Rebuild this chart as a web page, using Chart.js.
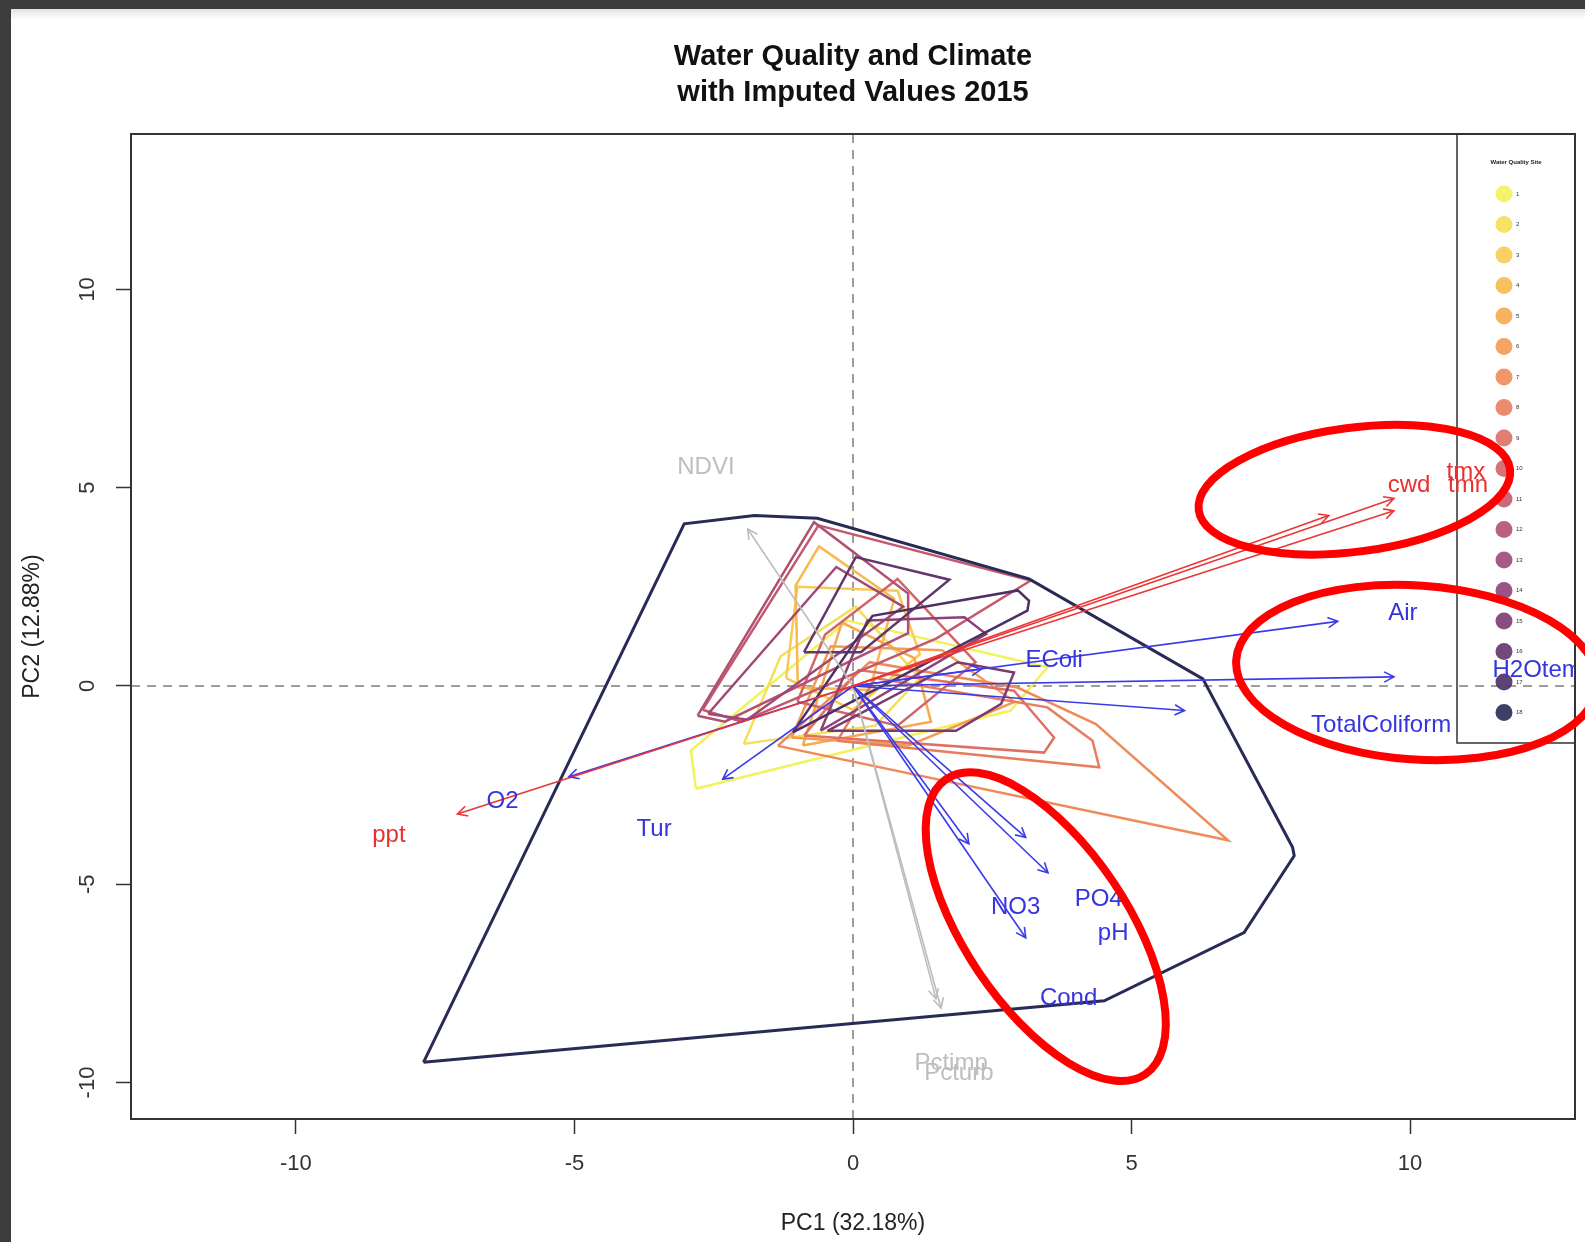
<!DOCTYPE html>
<html>
<head>
<meta charset="utf-8">
<script src="https://cdn.jsdelivr.net/npm/chart.js@4.4.1/dist/chart.umd.min.js"></script>
<style>
  html, body { margin: 0; padding: 0; background: #fff; }
  #wrap { position: relative; width: 1585px; height: 1242px; overflow: hidden; }
  .band { position: absolute; background: #3d3d3d; }
</style>
</head>
<body>
<div id="wrap">
  <canvas id="biplot" width="1585" height="1242"></canvas>
  <div class="band" style="left:0;top:0;width:1585px;height:9px"></div>
  <div class="band" style="left:0;top:0;width:11px;height:1242px"></div>
  <div style="position:absolute;left:11px;top:9px;width:1574px;height:11px;background:linear-gradient(#e2e2e2,#fff)"></div>
</div>
<script>
// sites (legend) and their colours
const siteLabels = ['1','2','3','4','5','6','7','8','9','10','11','12','13','14','15','16','17','18'];
const siteColors = ['#F2F25C','#F5DF57','#F7CB52','#F8B94F','#F7A94F','#F49A53','#EF8B58','#E87D5E','#DE7064',
                    '#D2646A','#C3596E','#B25072','#A04874','#8D4175','#793B73','#63356D','#4C3065','#272B55'];

// convex hull of each site's scores, [PC1, PC2]
const siteHulls = [
  [[-2.82,-2.59],[-2.91,-1.63],[-0.10,1.65],[3.49,0.47],[2.83,-0.62]],
  [[-1.96,-1.46],[-1.30,0.75],[0.05,2.00],[1.20,0.20],[0.40,-1.00]],
  [[-1.20,0.20],[-1.00,2.50],[0.80,2.40],[1.20,0.80],[0.00,-0.60]],
  [[-0.99,-0.04],[-1.03,2.53],[-0.61,3.52],[0.74,2.20],[0.30,-0.10]],
  [[-0.90,-1.50],[-0.20,1.60],[1.10,0.70],[1.40,-0.90]],
  [[-1.10,-1.30],[-0.40,1.00],[1.60,0.90],[2.90,-0.40],[1.00,-1.50]],
  [[-1.35,-1.51],[0.30,0.60],[2.95,-0.04],[4.36,-0.96],[6.73,-3.89]],
  [[-0.28,-1.38],[0.40,0.20],[3.49,-0.54],[4.30,-1.38],[4.42,-2.05]],
  [[-0.88,-1.25],[0.10,0.40],[2.89,-0.12],[3.61,-1.30],[3.43,-1.68]],
  [[-1.00,-0.40],[-0.50,1.30],[0.80,2.70],[2.20,0.60],[0.80,-1.00]],
  [[-2.70,-0.60],[-0.62,4.05],[3.19,2.66],[1.50,1.20],[-2.00,-0.90]],
  [[-2.79,-0.75],[-0.70,4.13],[0.99,2.33],[0.99,1.33],[-2.30,-0.90]],
  [[-2.60,-0.70],[-0.30,3.00],[0.90,2.00],[-1.90,-0.85]],
  [[-0.58,-1.13],[0.26,1.65],[2.00,1.73],[2.39,1.31]],
  [[-0.46,-1.13],[1.88,0.60],[2.89,0.34],[2.66,-0.45],[1.85,-1.13]],
  [[-0.88,0.85],[0.05,3.25],[1.73,2.68],[0.14,0.85]],
  [[-1.08,-1.17],[0.35,1.77],[2.96,2.41],[3.16,2.15],[3.13,1.90]],
  [[-7.71,-9.49],[-3.03,4.09],[-1.77,4.30],[-0.64,4.23],[3.16,2.70],[6.28,0.18],[7.89,-4.07],[7.92,-4.28],[7.02,-6.22],[4.51,-7.94]]
];

// variable loadings (arrow tips) and where their names sit
const varNames  = ['ppt','cwd','tmx','tmn','O2','Tur','EColi','Air','H2Otemp','TotalColiform','NO3','PO4','pH','Cond','NDVI','Pctimp','Pcturb'];
const varGroups = ['climate','climate','climate','climate','water','water','water','water','water','water','water','water','water','water','land','land','land'];
const loadX  = [-7.10, 8.54, 9.71, 9.71, -5.10, -2.34, 2.30, 8.70, 9.71, 5.95, 2.08, 3.10, 3.50, 3.10, -1.89, 1.49, 1.58];
const loadY  = [-3.23, 4.30, 4.73, 4.42, -2.29, -2.35, 0.42, 1.63, 0.23, -0.62, -3.98, -3.82, -4.71, -6.35, 3.96, -7.89, -8.12];
const labelX = [-8.33, 9.98, 11.00, 11.04, -6.29, -3.57, 3.61, 9.87, 12.40, 9.48, 2.92, 4.41, 4.67, 3.87, -2.64, 1.76, 1.90];
const labelY = [-3.78, 5.06, 5.39, 5.06, -2.90, -3.61, 0.64, 1.82, 0.39, -1.00, -5.59, -5.39, -6.25, -7.89, 5.52, -9.51, -9.76];

// hand-drawn highlight ellipses: centre in PC units
const markCx = [9.00, 10.12, 3.46];
const markCy = [4.95, 0.34, -6.07];

const FONT = '"Liberation Sans", Arial, sans-serif';
const groupColor = { climate: '#EC3535', water: '#3A3AEA', land: '#BDBDBD' };
const groupText  = { climate: '#E8302F', water: '#3434E0', land: '#BEBEBE' };
const groupOrder = { climate: 2, water: 3, land: 4 };
const markShape = [ { rx: 157, ry: 62, rot: -7.5 }, { rx: 181, ry: 87, rot: 4 }, { rx: 178, ry: 81, rot: 56 } ];

const datasets = [];
siteHulls.forEach((hull, i) => {
  const pts = hull.concat([hull[0]]).map(p => ({ x: p[0], y: p[1] }));
  datasets.push({
    label: 'site ' + siteLabels[i], data: pts, showLine: true, pointRadius: 0,
    borderColor: siteColors[i], borderWidth: i === 17 ? 3 : 2.5, tension: 0, order: 100 - i
  });
});
varNames.forEach((name, i) => {
  datasets.push({
    label: name, data: [{ x: 0, y: 0 }, { x: loadX[i], y: loadY[i] }], showLine: true, pointRadius: 0,
    borderColor: groupColor[varGroups[i]], borderWidth: 1.6, order: groupOrder[varGroups[i]], isArrow: true
  });
});

const biplotDecor = {
  id: 'biplotDecor',
  beforeDatasetsDraw(chart) {
    const { ctx, chartArea: a, scales: { x, y } } = chart;
    const x0 = x.getPixelForValue(0), y0 = y.getPixelForValue(0);
    ctx.save();
    ctx.strokeStyle = '#9d9d9d';
    ctx.lineWidth = 2;
    ctx.setLineDash([9, 7]);
    ctx.beginPath();
    ctx.moveTo(x0, a.top); ctx.lineTo(x0, a.bottom);
    ctx.moveTo(a.left, y0); ctx.lineTo(a.right, y0);
    ctx.stroke();
    ctx.restore();
  },
  afterDatasetsDraw(chart) {
    const { ctx, chartArea: a, scales: { x, y } } = chart;
    ctx.save();
    // arrow heads
    chart.data.datasets.forEach((ds, i) => {
      if (!ds.isArrow) return;
      const [p0, p1] = chart.getDatasetMeta(i).data;
      const ang = Math.atan2(p1.y - p0.y, p1.x - p0.x);
      const len = 11, spread = Math.PI / 6.5;
      ctx.strokeStyle = ds.borderColor;
      ctx.lineWidth = 1.6;
      ctx.beginPath();
      ctx.moveTo(p1.x - len * Math.cos(ang - spread), p1.y - len * Math.sin(ang - spread));
      ctx.lineTo(p1.x, p1.y);
      ctx.lineTo(p1.x - len * Math.cos(ang + spread), p1.y - len * Math.sin(ang + spread));
      ctx.stroke();
    });

    // legend box
    const lx = a.right - 118, ly = a.top, lh = 609;
    ctx.strokeStyle = '#333';
    ctx.lineWidth = 1.5;
    ctx.strokeRect(lx, ly, 118, lh);
    ctx.fillStyle = '#222';
    ctx.font = 'bold 6px ' + FONT;
    ctx.textAlign = 'center';
    ctx.textBaseline = 'middle';
    ctx.fillText('Water Quality Site', lx + 59, ly + 28);
    ctx.font = '6px ' + FONT;
    siteLabels.forEach((lab, i) => {
      const cy = ly + 60 + i * 30.5;
      ctx.globalAlpha = 0.9;
      ctx.fillStyle = siteColors[i];
      ctx.beginPath();
      ctx.arc(lx + 47, cy, 8.5, 0, Math.PI * 2);
      ctx.fill();
      ctx.globalAlpha = 1;
      ctx.fillStyle = '#333';
      ctx.textAlign = 'left';
      ctx.fillText(lab, lx + 59, cy);
    });

    // variable names, clipped to the plot region
    ctx.beginPath();
    ctx.rect(a.left, a.top, a.right - a.left, a.bottom - a.top);
    ctx.clip();
    ctx.font = '24px ' + FONT;
    ctx.textAlign = 'center';
    ctx.textBaseline = 'middle';
    varNames.forEach((name, i) => {
      ctx.fillStyle = groupText[varGroups[i]];
      ctx.fillText(name, x.getPixelForValue(labelX[i]), y.getPixelForValue(labelY[i]));
    });
    ctx.restore();
  },
  afterDraw(chart) {
    const { ctx, chartArea: a, scales: { x, y } } = chart;
    ctx.save();
    ctx.strokeStyle = '#333';
    ctx.lineWidth = 2;
    ctx.strokeRect(a.left, a.top, a.right - a.left, a.bottom - a.top);
    // red highlight ellipses
    ctx.strokeStyle = '#FF0000';
    ctx.lineWidth = 8;
    markCx.forEach((cx, i) => {
      const s = markShape[i];
      ctx.beginPath();
      ctx.ellipse(x.getPixelForValue(cx), y.getPixelForValue(markCy[i]), s.rx, s.ry, s.rot * Math.PI / 180, 0, Math.PI * 2);
      ctx.stroke();
    });
    ctx.restore();
  }
};

new Chart(document.getElementById('biplot'), {
  type: 'scatter',
  data: { datasets },
  options: {
    responsive: false,
    animation: false,
    events: [],
    layout: { padding: { left: 0, right: 10, top: 0, bottom: 0 } },
    plugins: {
      legend: { display: false },
      tooltip: { enabled: false },
      title: {
        display: true,
        fullSize: false,
        text: ['Water Quality and Climate', 'with Imputed Values 2015'],
        color: '#111',
        font: { family: FONT, size: 29, weight: 'bold', lineHeight: 1.255 },
        padding: { top: 38.4, bottom: 22.8 }
      }
    },
    scales: {
      x: {
        type: 'linear', min: -12.96, max: 12.96,
        afterFit(s) { s.height = 123; },
        ticks: { stepSize: 5, includeBounds: false, autoSkip: false, maxRotation: 0, padding: 17,
                 color: '#333', font: { family: FONT, size: 22 } },
        grid: { drawOnChartArea: false, drawTicks: true, tickLength: 15, tickColor: '#333', tickWidth: 1.5 },
        border: { display: false },
        title: { display: true, text: 'PC1 (32.18%)', color: '#222', font: { family: FONT, size: 23 },
                 padding: { top: 0, bottom: 5 } }
      },
      y: {
        type: 'linear', min: -10.92, max: 13.92,
        afterFit(s) { s.width = 131; },
        ticks: { stepSize: 5, includeBounds: false, autoSkip: false, minRotation: 90, maxRotation: 90,
                 crossAlign: 'center', padding: 12, color: '#333', font: { family: FONT, size: 22 } },
        grid: { drawOnChartArea: false, drawTicks: true, tickLength: 15, tickColor: '#333', tickWidth: 1.5 },
        border: { display: false },
        title: { display: true, text: 'PC2 (12.88%)', color: '#222', font: { family: FONT, size: 23 },
                 padding: { top: 19, bottom: 0 } }
      }
    }
  },
  plugins: [biplotDecor]
});
</script>
</body>
</html>
